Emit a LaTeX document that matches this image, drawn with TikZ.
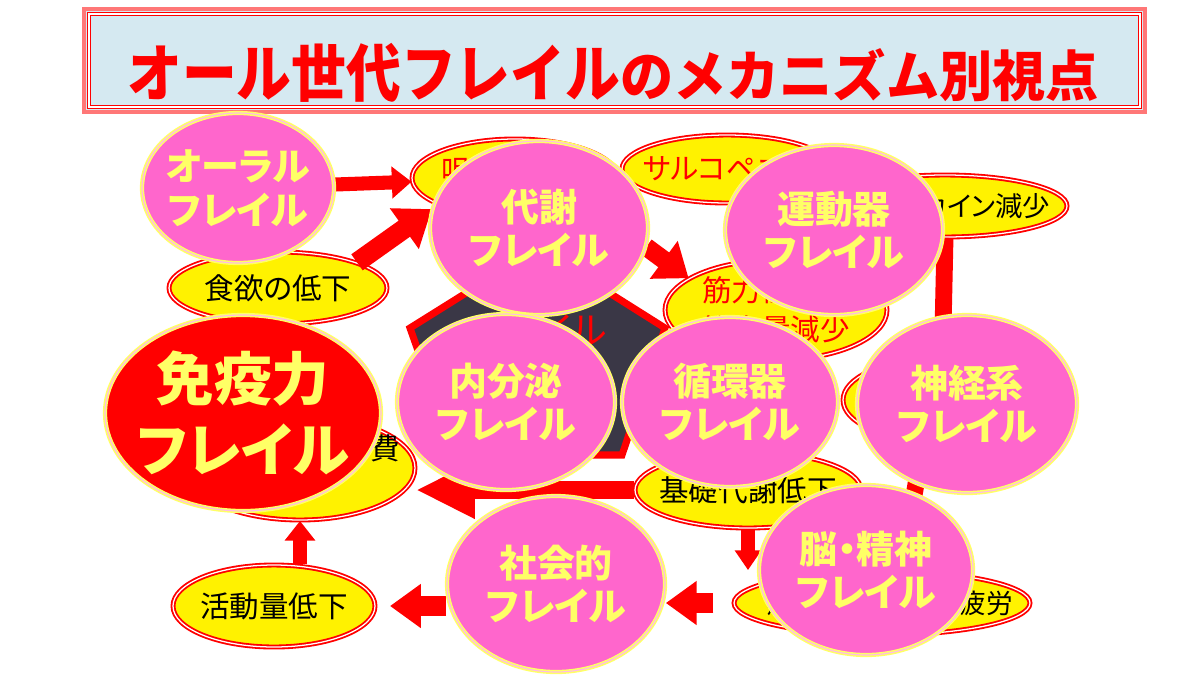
\documentclass[tikz,border=0pt]{standalone}
\usepackage{fontspec}
\setmainfont{Noto Sans CJK JP}[RawFeature=+palt]
\newfontfamily\titlefont{Noto Sans CJK JP}
\usetikzlibrary{arrows.meta,shapes.geometric,calc}
\definecolor{frailpink}{HTML}{FF66CC}
\definecolor{labelyellow}{HTML}{FFFF66}
\definecolor{titleblue}{HTML}{D5E9F1}
\definecolor{coreslate}{HTML}{3A3746}
\definecolor{framered}{HTML}{FF7777}
\pgfdeclarelayer{back}
\pgfdeclarelayer{mid}
\pgfsetlayers{back,mid,main}
\tikzset{
  frail/.style={ellipse,draw=labelyellow,line width=1.1pt,double=frailpink!45!white,double distance=0.8pt,fill=frailpink,inner sep=0pt},
  frailtext/.style={text=labelyellow,font=\fontsize{27}{31}\selectfont\bfseries,align=center},
  cause/.style={ellipse,draw=red,line width=1.3pt,double=white,double distance=0.9pt,fill=yellow,inner sep=0pt},
  causetext/.style={font=\fontsize{21}{28}\selectfont,align=center},
  blk/.style n args={3}{draw=red,line width=#1,-{Triangle[width=#2,length=#3]}},
  esize/.style 2 args={minimum width=#1*0.025cm,minimum height=#2*0.025cm},
}
\newcommand{\frailnode}[5]{
  \node[frail,esize={#3}{#4}] (#1) at #2 {};
  \node[frailtext] (#1-txt) at (#1) {#5};
}
\newcommand{\causenode}[6]{
  \node[cause,esize={#3}{#4}] (#1) at #2 {};
  \node[causetext,#5] (#1-txt) at (#1) {#6};
}
\begin{document}
\begin{tikzpicture}[x=0.025cm,y=-0.025cm]
  \useasboundingbox (0,0) rectangle (1189,686);
  \begin{pgfonlayer}{back}
  % title
  \fill[titleblue] (85,10) rectangle (1144,111);
  \draw[framered,line width=3pt] (84,9) rectangle (1145,112);
  \draw[red,line width=1.2pt,double=white,double distance=1pt] (89,14) rectangle (1140,107);
  \node[text=red,font=\titlefont\bfseries,inner sep=0pt] (title) at (613,73)
    {\scalebox{0.95}[1.08]{\fontsize{41}{41}\selectfont オール世代フレイル}\scalebox{1.05}[1.08]{\fontsize{36}{36}\selectfont のメカニズム別視点}};
  % core
  \draw[fill=coreslate,draw=red,line width=5pt] (538,248) -- (665,328) -- (622,455) -- (455,455) -- (410,328) -- cycle;
  \node[text=red,font=\fontsize{27}{31}\selectfont] (core) at (540,330) {フレイル};
  % causes
  \causenode{soshaku}{(515,178)}{206}{78}{text=red,yshift=0.2cm}{咀嚼力低下}
  \causenode{sarco}{(727,169)}{210}{68}{text=red}{サルコペニア}
  \causenode{mayo}{(945,206)}{244}{62}{font=\fontsize{19.5}{23}\selectfont,xshift=0.1cm}{マイオカイン減少}
  \causenode{appetite}{(278,288)}{218}{72}{}{食欲の低下}
  \causenode{kin}{(776,310)}{222}{100}{text=red,align=left}{筋力低下\\筋肉量減少}
  \causenode{sensory}{(930,400)}{174}{80}{}{}
  \causenode{kiso}{(748,490)}{226}{76}{}{基礎代謝低下}
  \causenode{ener}{(300,468)}{230}{104}{yshift=0.5cm}{エネルギー消費}
  \causenode{activity}{(274,606)}{202}{82}{}{活動量低下}
  \causenode{fatigue}{(882,603)}{296}{64}{font=\fontsize{19}{23}\selectfont,xshift=0.2cm}{疲れやすさ・慢性疲労}
  \end{pgfonlayer}
  % frailties
  \frailnode{oral}{(238,188)}{192}{150}{オーラル\\フレイル}
  \frailnode{taisha}{(539,228)}{218}{174}{代謝\\フレイル}
  \frailnode{undoki}{(834,230)}{218}{170}{運動器\\フレイル}
  \frailnode{naibunpi}{(506,402)}{218}{176}{内分泌\\フレイル}
  \frailnode{junkanki}{(730,402)}{216}{170}{循環器\\フレイル}
  \frailnode{shinkei}{(967,404)}{220}{178}{神経系\\フレイル}
  \frailnode{shakai}{(556,584)}{218}{176}{社会的\\フレイル}
  \frailnode{nou}{(866,570)}{214}{170}{脳・精神\\フレイル}
  \node[frail,fill=red,esize={276}{196}] (meneki) at (243,413) {};
  \node[frailtext,font=\fontsize{41}{50}\selectfont\bfseries] (meneki-txt) at (meneki) {免疫力\\フレイル};
  % arrows
  \begin{pgfonlayer}{mid}
  \draw[blk={10pt}{22pt}{14pt}] (oral) -- (soshaku);
  \draw[blk={14pt}{34pt}{24pt}] (appetite.18) -- (taisha.170);
  \draw[blk={13pt}{32pt}{22pt}] (taisha.-10) -- (kin.160);
  \draw[blk={13pt}{38pt}{42pt}] (kiso.west) -- (kiso.west -| ener.east);
  \draw[blk={10pt}{21pt}{14pt}] (activity.north -| ener.south) -- (ener.south);
  \draw[blk={10pt}{18pt}{14pt}] (kiso.south) -- (kiso.south |- fatigue.north);
  \draw[blk={14pt}{30pt}{22pt},shorten <=14pt] (fatigue.west) -- (fatigue.west -| shakai.east);
  \draw[blk={14pt}{30pt}{22pt},shorten >=10pt] (activity.east -| shakai.west) -- (activity.east);
  \coordinate (bend) at (943,330);
  \draw[red,line width=12pt] (mayo.south) -- (bend) -- (fatigue.60);
  \end{pgfonlayer}
\end{tikzpicture}
\end{document}
